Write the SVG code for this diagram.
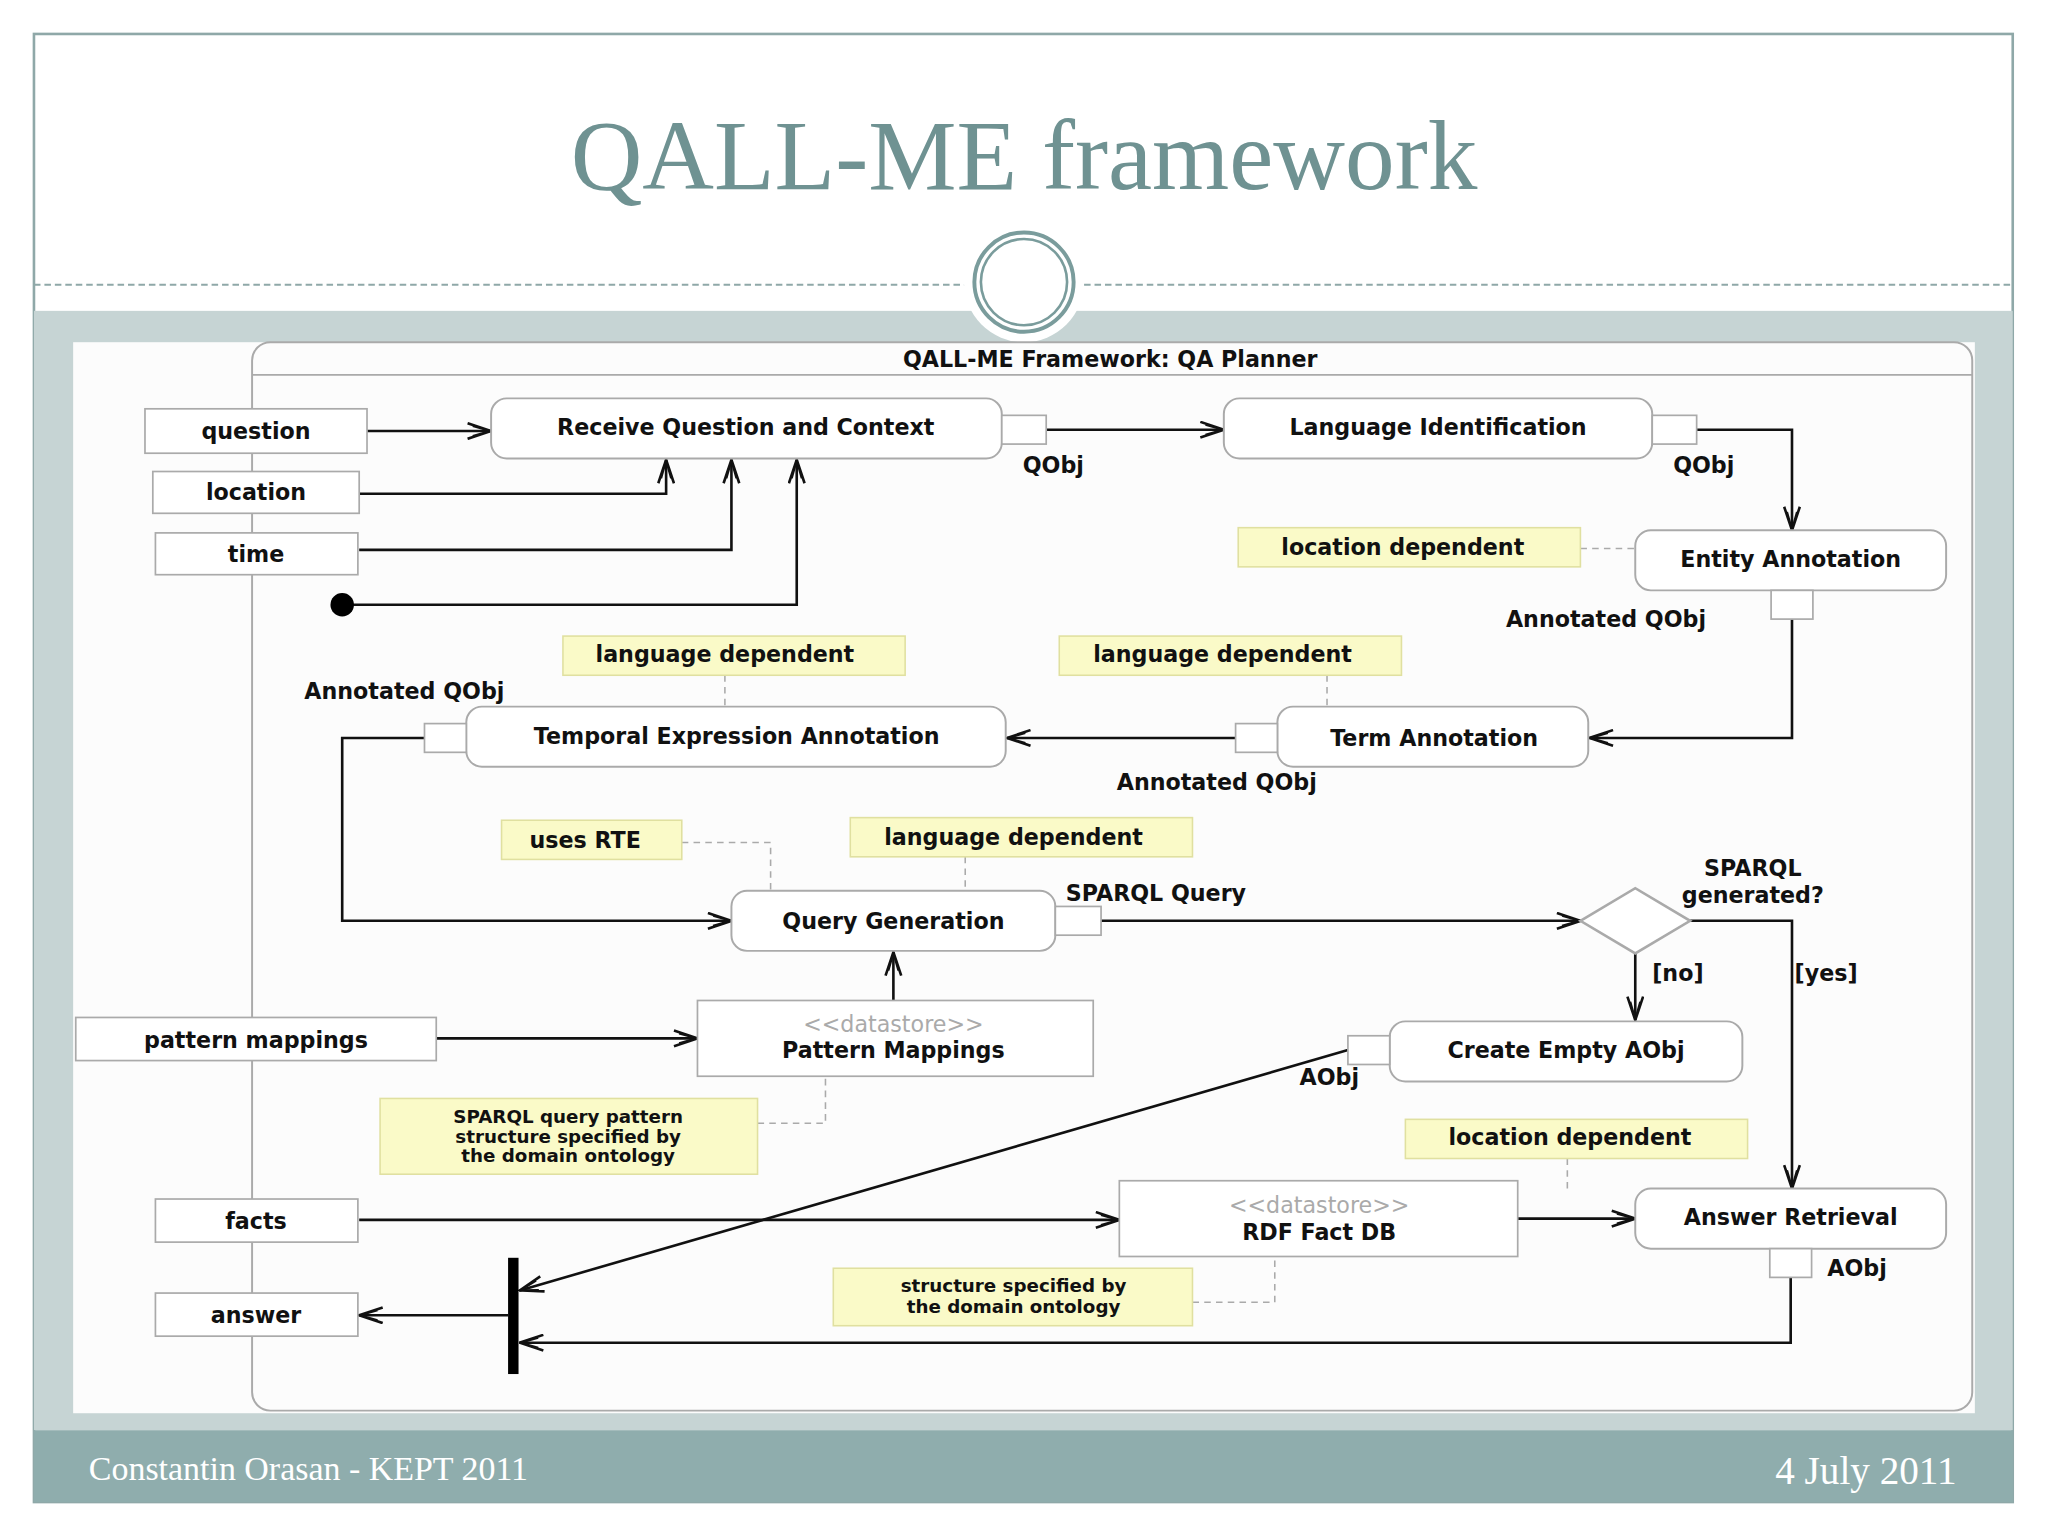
<svg xmlns="http://www.w3.org/2000/svg" width="2048" height="1536" viewBox="0 0 2048 1536">
<defs>
<style>
.t{font-family:"DejaVu Sans",Verdana,sans-serif;font-size:17px;font-weight:bold;fill:#111;}
.s{font-size:14px;}
.c{text-anchor:middle;}
.pin{fill:#fff;stroke:#aaa;stroke-width:1.3;}
.act{fill:#fff;stroke:#aaa;stroke-width:1.5;}
.note{fill:#fafac8;stroke:#e0e0a0;stroke-width:1.2;}
.dash{fill:none;stroke:#aaa;stroke-width:1.2;stroke-dasharray:5,4;}
.ln{fill:none;stroke:#111;stroke-width:2;}
.ds{font-family:"DejaVu Sans",Verdana,sans-serif;font-size:17px;fill:#aaa;text-anchor:middle;}
</style>
<marker id="a" viewBox="0 0 20 14" refX="19" refY="7" markerWidth="20" markerHeight="14" markerUnits="userSpaceOnUse" orient="auto">
<path d="M1,1 L19,7 L1,13 M5,3 L19,7 L5,11" fill="none" stroke="#111" stroke-width="2"/>
</marker>
</defs>
<rect width="2048" height="1536" fill="#fff"/>
<g transform="scale(1.30612)">
<rect x="26" y="26" width="1515" height="1124" fill="#fff" stroke="#8fa8a8" stroke-width="2"/>
<text x="784" y="145" text-anchor="middle" font-family="Liberation Serif,serif" font-size="76" fill="#6f9292">QALL-ME framework</text>
<rect x="26" y="238" width="1515" height="857" fill="#c6d4d4"/>
<line x1="26" y1="218" x2="740" y2="218" stroke="#8fa8a8" stroke-width="1.5" stroke-dasharray="5,3"/>
<line x1="830" y1="218" x2="1541" y2="218" stroke="#8fa8a8" stroke-width="1.5" stroke-dasharray="5,3"/>
<circle cx="784" cy="216" r="46" fill="#fff"/>
<circle cx="784" cy="216" r="38" fill="#fff" stroke="#7a9c9c" stroke-width="3"/>
<circle cx="784" cy="216" r="33" fill="none" stroke="#7a9c9c" stroke-width="2"/>
<rect x="26" y="1095" width="1515" height="55" fill="#8fadad"/>
<text x="68" y="1133" font-family="Liberation Serif,serif" font-size="26" fill="#fff">Constantin Orasan - KEPT 2011</text>
<text x="1498" y="1136" text-anchor="end" font-family="Liberation Serif,serif" font-size="30" fill="#fff">4 July 2011</text>
<rect x="56" y="262" width="1456" height="820" fill="#fcfcfc"/>

<g id="frame">
<rect x="193" y="262" width="1317" height="818" rx="14" fill="none" stroke="#aaa" stroke-width="1.5"/>
<line x1="193" y1="287" x2="1510" y2="287" stroke="#aaa" stroke-width="1.5"/>
<text class="t c" x="850" y="281">QALL-ME Framework: QA Planner</text>
</g>

<g id="connectors">
<path class="ln" d="M281,330 H376" marker-end="url(#a)"/>
<path class="ln" d="M275,378 H510 V352" marker-end="url(#a)"/>
<path class="ln" d="M275,421 H560 V352" marker-end="url(#a)"/>
<path class="ln" d="M262,463 H610 V352" marker-end="url(#a)"/>
<path class="ln" d="M801,329 H937" marker-end="url(#a)"/>
<path class="ln" d="M1299,329 H1372 V406" marker-end="url(#a)"/>
<path class="ln" d="M1372,474 V565 H1217" marker-end="url(#a)"/>
<path class="ln" d="M946,565 H771" marker-end="url(#a)"/>
<path class="ln" d="M325,565 H262 V705 H560" marker-end="url(#a)"/>
<path class="ln" d="M843,705 H1210" marker-end="url(#a)"/>
<path class="ln" d="M1252,730 V781" marker-end="url(#a)"/>
<path class="ln" d="M1294,705 H1372 V910" marker-end="url(#a)"/>
<path class="ln" d="M684,766 V729" marker-end="url(#a)"/>
<path class="ln" d="M334,795 H534" marker-end="url(#a)"/>
<path class="ln" d="M275,934 H857" marker-end="url(#a)"/>
<path class="ln" d="M1162,933 H1252" stroke-width="4" marker-end="url(#a)"/>
<path class="ln" d="M1032,804 L398,988" marker-end="url(#a)"/>
<path class="ln" d="M1371,978 V1028 H398" marker-end="url(#a)"/>
<path class="ln" d="M389,1007 H275" marker-end="url(#a)"/>
<path class="dash" d="M1210,420 H1252"/>
<path class="dash" d="M1016,517 V541"/>
<path class="dash" d="M555,517 V541"/>
<path class="dash" d="M522,645 H590 V682"/>
<path class="dash" d="M739,656 V682"/>
<path class="dash" d="M580,860 H632 V824"/>
<path class="dash" d="M1200,887 V910"/>
<path class="dash" d="M913,997 H976 V962"/>
</g>

<g id="pins">
<rect class="pin" x="111" y="313" width="170" height="34"/><text class="t c" x="196" y="336">question</text>
<rect class="pin" x="117" y="361" width="158" height="32"/><text class="t c" x="196" y="383">location</text>
<rect class="pin" x="119" y="408" width="155" height="32"/><text class="t c" x="196" y="430">time</text>
<rect class="pin" x="58" y="779" width="276" height="33"/><text class="t c" x="196" y="802">pattern mappings</text>
<rect class="pin" x="119" y="918" width="155" height="33"/><text class="t c" x="196" y="941">facts</text>
<rect class="pin" x="119" y="990" width="155" height="33"/><text class="t c" x="196" y="1013">answer</text>
</g>
<g id="start"><circle cx="262" cy="463" r="9" fill="#000"/></g>

<g id="receive">
<rect class="act" x="376" y="305" width="391" height="46" rx="12"/>
<text class="t c" x="571" y="333">Receive Question and Context</text>
<rect class="pin" x="767" y="318" width="34" height="22"/>
<text class="t" x="783" y="362">QObj</text>
</g>
<g id="langid">
<rect class="act" x="937" y="305" width="328" height="46" rx="12"/>
<text class="t c" x="1101" y="333">Language Identification</text>
<rect class="pin" x="1265" y="318" width="34" height="22"/>
<text class="t" x="1281" y="362">QObj</text>
</g>
<g id="entity">
<rect class="note" x="948" y="404" width="262" height="30"/>
<text class="t c" x="1074" y="425">location dependent</text>
<rect class="act" x="1252" y="406" width="238" height="46" rx="12"/>
<text class="t c" x="1371" y="434">Entity Annotation</text>
<rect class="pin" x="1356" y="452" width="32" height="22"/>
<text class="t" x="1153" y="480">Annotated QObj</text>
</g>
<g id="term">
<rect class="note" x="811" y="487" width="262" height="30"/>
<text class="t c" x="936" y="507">language dependent</text>
<rect class="act" x="978" y="541" width="238" height="46" rx="12"/>
<text class="t c" x="1098" y="571">Term Annotation</text>
<rect class="pin" x="946" y="554" width="32" height="22"/>
<text class="t" x="855" y="605">Annotated QObj</text>
</g>
<g id="temporal">
<rect class="note" x="431" y="487" width="262" height="30"/>
<text class="t c" x="555" y="507">language dependent</text>
<rect class="act" x="357" y="541" width="413" height="46" rx="12"/>
<text class="t c" x="564" y="570">Temporal Expression Annotation</text>
<rect class="pin" x="325" y="554" width="32" height="22"/>
<text class="t" x="233" y="535">Annotated QObj</text>
</g>
<g id="querygen">
<rect class="note" x="384" y="628" width="138" height="30"/>
<text class="t c" x="448" y="649">uses RTE</text>
<rect class="note" x="651" y="626" width="262" height="30"/>
<text class="t c" x="776" y="647">language dependent</text>
<rect class="act" x="560" y="682" width="248" height="46" rx="12"/>
<text class="t c" x="684" y="711">Query Generation</text>
<rect class="pin" x="808" y="694" width="35" height="22"/>
<text class="t" x="816" y="690">SPARQL Query</text>
</g>
<g id="decision">
<path d="M1210,705 L1252,680 L1294,705 L1252,730 Z" fill="#fff" stroke="#aaa" stroke-width="2"/>
<text class="t c" x="1342" y="671">SPARQL</text>
<text class="t c" x="1342" y="691">generated?</text>
<text class="t" x="1265" y="751">[no]</text>
<text class="t" x="1374" y="751">[yes]</text>
</g>
<g id="createempty">
<rect class="act" x="1064" y="782" width="270" height="46" rx="12"/>
<text class="t c" x="1199" y="810">Create Empty AObj</text>
<rect class="pin" x="1032" y="793" width="32" height="22"/>
<text class="t" x="995" y="831">AObj</text>
</g>
<g id="patternmappings">
<rect class="pin" x="534" y="766" width="303" height="58"/>
<text class="ds" x="684" y="790">&lt;&lt;datastore&gt;&gt;</text>
<text class="t c" x="684" y="810">Pattern Mappings</text>
<rect class="note" x="291" y="841" width="289" height="58"/>
<text class="t s c" x="435" y="860">SPARQL query pattern</text>
<text class="t s c" x="435" y="875">structure specified by</text>
<text class="t s c" x="435" y="890">the domain ontology</text>
</g>
<g id="rdf">
<rect class="pin" x="857" y="904" width="305" height="58"/>
<text class="ds" x="1010" y="929">&lt;&lt;datastore&gt;&gt;</text>
<text class="t c" x="1010" y="949">RDF Fact DB</text>
<rect class="note" x="638" y="971" width="275" height="44"/>
<text class="t s c" x="776" y="989">structure specified by</text>
<text class="t s c" x="776" y="1005">the domain ontology</text>
</g>
<g id="answerret">
<rect class="note" x="1076" y="857" width="262" height="30"/>
<text class="t c" x="1202" y="877">location dependent</text>
<rect class="act" x="1252" y="910" width="238" height="46" rx="12"/>
<text class="t c" x="1371" y="938">Answer Retrieval</text>
<rect class="pin" x="1355" y="956" width="32" height="22"/>
<text class="t" x="1399" y="977">AObj</text>
</g>
<g id="join"><rect x="389" y="963" width="8" height="89" fill="#000"/></g>
</g>
</svg>
